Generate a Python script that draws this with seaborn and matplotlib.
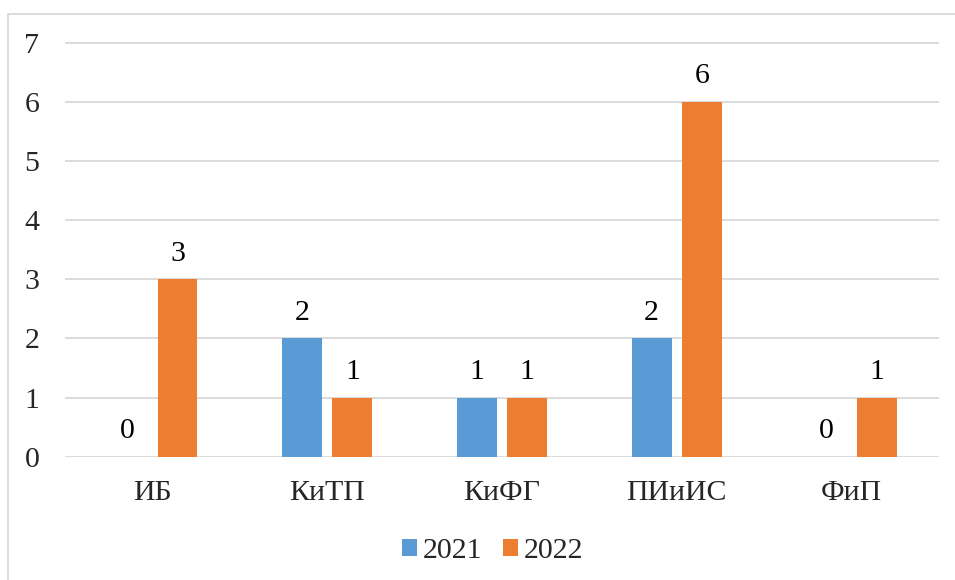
import matplotlib
matplotlib.use("Agg")
import matplotlib.pyplot as plt
from matplotlib.lines import Line2D
import seaborn as sns
import pandas as pd

# Data
categories = ["ИБ", "КиТП", "КиФГ", "ПИиИС", "ФиП"]
years = ["2021", "2022"]
values_2021 = [0, 2, 1, 2, 0]
values_2022 = [3, 1, 1, 6, 1]
y_ticks = [0, 1, 2, 3, 4, 5, 6, 7]

colors = ["#5B9BD5", "#ED7D31"]
grid_color = "#D9D9D9"

df = pd.DataFrame({
    "category": categories * 2,
    "year": [years[0]] * len(categories) + [years[1]] * len(categories),
    "value": values_2021 + values_2022,
})

sns.set_theme(style="white")
plt.rcParams["font.family"] = ["Liberation Serif", "DejaVu Serif"]
FS = 21.5

W, H = 955, 580
fig = plt.figure(figsize=(W / 100, H / 100), dpi=100)
fig.patch.set_facecolor("white")

ymax = 7.05
px_per_unit = (456.7 - 42.7) / 7
top_px = 456.7 - ymax * px_per_unit
ax = fig.add_axes([65 / W, 1 - 456.7 / H, (939 - 65) / W, (456.7 - top_px) / H])

sns.barplot(data=df, x="category", y="value", hue="year", order=categories,
            hue_order=years, palette=colors, width=0.576, gap=0.21,
            saturation=1, linewidth=0, edgecolor="none", ax=ax, legend=True)

ax.set_xlim(-0.5, len(categories) - 0.5)
ax.set_ylim(0, ymax)
ax.set_yticks(y_ticks)
ax.set_yticklabels([str(t) for t in y_ticks], fontsize=FS)
ax.tick_params(axis="y", length=0, pad=18.5)
ax.tick_params(axis="x", length=0, pad=17, labelsize=FS)
ax.set_xlabel("")
ax.set_ylabel("")
for s in ax.spines.values():
    s.set_visible(False)
ax.yaxis.grid(True, color=grid_color, linewidth=1.3)
ax.set_axisbelow(True)

for cont in ax.containers:
    ax.bar_label(cont, labels=[f"{int(b.get_height())}" for b in cont],
                 padding=9, fontsize=FS, color="black")

handles, labels = ax.get_legend_handles_labels()
ax.legend(handles, labels, loc="center", bbox_to_anchor=(492.5 / W, 1 - 551.5 / H),
          bbox_transform=fig.transFigure, ncol=2, frameon=False, fontsize=FS,
          handlelength=0.5, handleheight=0.5, handletextpad=0.2,
          columnspacing=0.7, borderaxespad=0)

# Chart-area frame (left and top edges)
fig.add_artist(Line2D([8 / W, 8 / W], [0, 1 - 14 / H], transform=fig.transFigure,
                      color=grid_color, linewidth=1.3))
fig.add_artist(Line2D([8 / W, 1], [1 - 14 / H, 1 - 14 / H], transform=fig.transFigure,
                      color=grid_color, linewidth=1.3))

fig.savefig("out.png", dpi=100, facecolor="white")
